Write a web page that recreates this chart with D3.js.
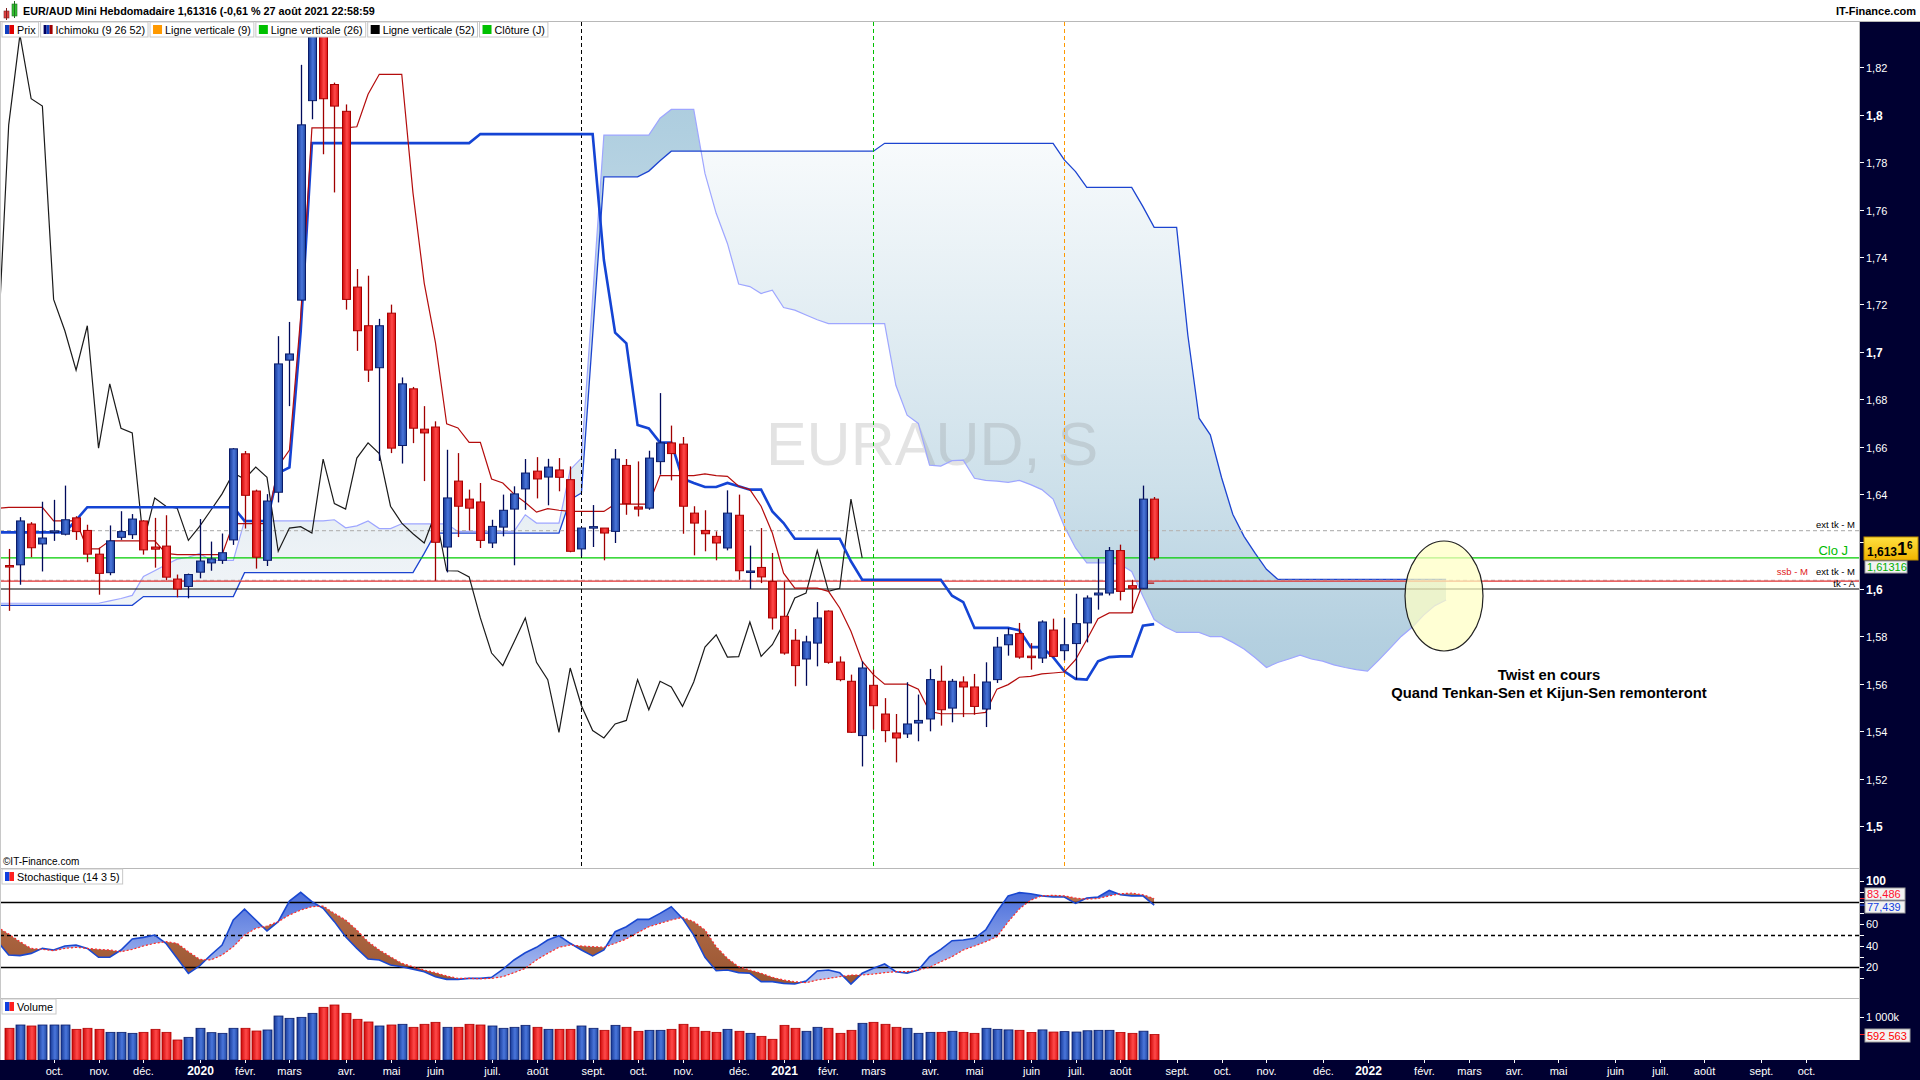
<!DOCTYPE html>
<html><head><meta charset="utf-8">
<script src="https://cdnjs.cloudflare.com/ajax/libs/d3/7.8.5/d3.min.js"></script>
<style>
html,body{margin:0;padding:0;background:#fff;overflow:hidden;}
svg{display:block;font-family:"Liberation Sans",Arial,sans-serif;}
</style></head><body>
<svg id="c" width="1920" height="1080"></svg>
<script>
// ---------- DATA (weekly EUR/AUD, first candle = week of 9 Sept 2019) ----------
const firstWeek = "2019-09-09";
const open = [1.6099,1.6102,1.6274,1.6190,1.6239,1.6231,1.6300,1.6247,1.6147,1.6069,
1.6218,1.6229,1.6287,1.6177,1.6181,1.6042,1.6011,1.6071,1.6110,1.6121,
1.6207,1.6570,1.6413,1.6121,1.6408,1.6965,1.7218,1.8059,1.8336,1.8127,
1.8014,1.7273,1.7110,1.6933,1.7163,1.6605,1.6844,1.6674,1.6683,1.6177,
1.6455,1.6379,1.6367,1.6194,1.6261,1.6337,1.6422,1.6497,1.6472,1.6502,
1.6461,1.6169,1.6259,1.6257,1.6243,1.6521,1.6346,1.6341,1.6537,1.6616,
1.6611,1.6320,1.6247,1.6222,1.6173,1.6311,1.6072,1.6091,1.6032,1.5885,
1.5784,1.5705,1.5772,1.5907,1.5692,1.5611,1.5382,1.5594,1.5473,1.5393,
1.5389,1.5435,1.5452,1.5611,1.5498,1.5608,1.5587,1.5494,1.5618,1.5765,
1.5812,1.5717,1.5709,1.5827,1.5740,1.5770,1.5857,1.5975,1.5983,1.6162,
1.6014,1.6003,1.6379];
const high = [1.6169,1.6303,1.6282,1.6368,1.6376,1.6436,1.6307,1.6271,1.6174,1.6268,
1.6328,1.6316,1.6290,1.6300,1.6311,1.6061,1.6065,1.6295,1.6200,1.6234,
1.6594,1.6582,1.6419,1.6400,1.7066,1.7126,1.8210,1.9800,1.8800,1.8135,
1.8043,1.7349,1.7321,1.7139,1.7199,1.6892,1.6852,1.6771,1.6707,1.6587,
1.6573,1.6419,1.6447,1.6292,1.6398,1.6433,1.6548,1.6556,1.6549,1.6552,
1.6517,1.6257,1.6354,1.6257,1.6590,1.6548,1.6538,1.6583,1.6826,1.6689,
1.6641,1.6349,1.6332,1.6243,1.6416,1.6398,1.6183,1.6257,1.6152,1.6032,
1.5831,1.5803,1.5945,1.5910,1.5716,1.5639,1.5695,1.5660,1.5540,1.5473,
1.5607,1.5555,1.5663,1.5677,1.5621,1.5632,1.5642,1.5691,1.5798,1.5836,
1.5857,1.5772,1.5868,1.5875,1.5878,1.5980,1.5973,1.6128,1.6177,1.6187,
1.6039,1.6436,1.6388];
const low = [1.5908,1.6018,1.6134,1.6074,1.6203,1.6226,1.6207,1.6113,1.5976,1.6058,
1.6207,1.6211,1.6145,1.6090,1.6037,1.5965,1.5961,1.6045,1.6077,1.6106,
1.6186,1.6255,1.6086,1.6097,1.6365,1.6771,1.7215,1.7981,1.7833,1.7672,
1.7178,1.7004,1.6873,1.6540,1.6573,1.6529,1.6615,1.6455,1.6035,1.6070,
1.6219,1.6247,1.6173,1.6173,1.6222,1.6100,1.6334,1.6382,1.6353,1.6412,
1.6155,1.6138,1.6177,1.6121,1.6194,1.6313,1.6306,1.6334,1.6482,1.6458,
1.6233,1.6142,1.6159,1.6121,1.6163,1.6039,1.6000,1.6025,1.5829,1.5723,
1.5590,1.5592,1.5674,1.5685,1.5611,1.5393,1.5252,1.5407,1.5354,1.5269,
1.5372,1.5358,1.5400,1.5424,1.5438,1.5460,1.5470,1.5418,1.5604,1.5719,
1.5706,1.5660,1.5688,1.5713,1.5699,1.5618,1.5775,1.5913,1.5973,1.5952,
1.5899,1.6000,1.6121];
const close = [1.6094,1.6287,1.6174,1.6215,1.6245,1.6292,1.6242,1.6147,1.6066,1.6203,
1.6242,1.6295,1.6165,1.6168,1.6050,1.6000,1.6061,1.6118,1.6127,1.6153,
1.6591,1.6395,1.6134,1.6371,1.6949,1.6991,1.7957,1.8336,1.8067,1.8036,
1.7221,1.7089,1.6923,1.7110,1.6594,1.6865,1.6678,1.6658,1.6197,1.6384,
1.6349,1.6341,1.6205,1.6264,1.6332,1.6401,1.6489,1.6464,1.6514,1.6471,
1.6159,1.6257,1.6263,1.6236,1.6548,1.6360,1.6337,1.6552,1.6616,1.6571,
1.6349,1.6278,1.6233,1.6194,1.6320,1.6077,1.6076,1.6051,1.5878,1.5730,
1.5677,1.5777,1.5878,1.5691,1.5618,1.5396,1.5667,1.5508,1.5403,1.5372,
1.5431,1.5446,1.5618,1.5491,1.5611,1.5587,1.5505,1.5608,1.5755,1.5807,
1.5713,1.5715,1.5861,1.5716,1.5765,1.5854,1.5962,1.5983,1.6162,1.5990,
1.6003,1.6379,1.61316];
// Ichimoku lines: index -1 .. 102
const tenkan = [1.6340,1.6344,1.6344,1.6344,1.6344,1.6287,1.6287,1.6287,1.6169,1.6169,
1.6203,1.6203,1.6203,1.6203,1.6203,1.6150,1.6145,1.6145,1.6145,1.6145,
1.6145,1.6276,1.6276,1.6276,1.6276,1.6518,1.6586,1.7148,1.7944,1.7944,
1.7944,1.7944,1.7949,1.8086,1.8170,1.8170,1.8170,1.7670,1.7290,1.7039,
1.6696,1.6679,1.6618,1.6618,1.6464,1.6447,1.6400,1.6365,1.6324,1.6339,
1.6332,1.6327,1.6327,1.6327,1.6327,1.6358,1.6358,1.6358,1.6358,1.6478,
1.6478,1.6478,1.6478,1.6485,1.6478,1.6475,1.6433,1.6419,1.6349,1.6236,
1.6067,1.6004,1.6004,1.6004,1.5990,1.5920,1.5822,1.5695,1.5639,1.5599,
1.5599,1.5599,1.5578,1.5484,1.5474,1.5474,1.5474,1.5474,1.5480,1.5578,
1.5597,1.5628,1.5632,1.5642,1.5646,1.5650,1.5702,1.5786,1.5875,1.5899,
1.5899,1.5899,1.6025,1.6025];
const kijun = [1.6239,1.6239,1.6239,1.6239,1.6239,1.6239,1.6239,1.6290,1.6345,1.6345,
1.6345,1.6345,1.6345,1.6345,1.6345,1.6345,1.6345,1.6345,1.6345,1.6345,
1.6345,1.6345,1.6287,1.6287,1.6287,1.6489,1.6513,1.7086,1.7880,1.7880,
1.7880,1.7880,1.7880,1.7880,1.7880,1.7880,1.7880,1.7880,1.7880,1.7880,
1.7880,1.7880,1.7880,1.7918,1.7918,1.7918,1.7918,1.7918,1.7918,1.7918,
1.7918,1.7918,1.7918,1.7918,1.7387,1.7081,1.7036,1.6691,1.6677,1.6617,
1.6617,1.6466,1.6447,1.6430,1.6430,1.6447,1.6433,1.6419,1.6419,1.6327,
1.6278,1.6212,1.6212,1.6212,1.6212,1.6212,1.6117,1.6039,1.6039,1.6039,
1.6039,1.6039,1.6039,1.6039,1.6039,1.5972,1.5945,1.5836,1.5836,1.5836,
1.5836,1.5826,1.5755,1.5755,1.5713,1.5653,1.5621,1.5618,1.5695,1.5713,
1.5716,1.5716,1.5845,1.5852];
// Senkou spans: index -1 .. 128 (projected 26 weeks ahead)
const senkouA = [1.5940,1.5940,1.5940,1.5940,1.5940,1.5940,1.5940,1.5940,1.5940,1.5940,
1.5950,1.5960,1.5973,1.6053,1.6077,1.6102,1.6126,1.6134,1.6150,1.6121,
1.6121,1.6121,1.6287,1.6287,1.6287,1.6287,1.6287,1.6287,1.6287,1.6287,
1.6292,1.6258,1.6266,1.6287,1.6255,1.6255,1.6275,1.6275,1.6275,1.6275,
1.6275,1.6243,1.6243,1.6243,1.6243,1.6243,1.6243,1.6313,1.6278,1.6278,
1.6278,1.6503,1.6552,1.7230,1.7914,1.7914,1.7914,1.7914,1.7914,1.7985,
1.8022,1.8022,1.8022,1.7752,1.7584,1.7457,1.7286,1.7275,1.7246,1.7260,
1.7187,1.7176,1.7155,1.7135,1.7119,1.7119,1.7119,1.7119,1.7119,1.7119,
1.6859,1.6733,1.6698,1.6522,1.6518,1.6541,1.6543,1.6467,1.6458,1.6455,
1.6450,1.6458,1.6440,1.6419,1.6379,1.6264,1.6173,1.6110,1.6110,1.6110,
1.6103,1.6074,1.5969,1.5871,1.5840,1.5817,1.5817,1.5817,1.5799,1.5799,
1.5775,1.5747,1.5710,1.5669,1.5690,1.5705,1.5721,1.5705,1.5696,1.5680,
1.5669,1.5660,1.5654,1.5700,1.5750,1.5800,1.5840,1.5890,1.5930,1.5954];
const senkouB = [1.5931,1.5931,1.5931,1.5931,1.5931,1.5931,1.5931,1.5931,1.5931,1.5931,
1.5931,1.5931,1.5931,1.5968,1.5968,1.5968,1.5968,1.5968,1.5968,1.5968,
1.5968,1.5968,1.6069,1.6069,1.6069,1.6069,1.6069,1.6069,1.6069,1.6069,
1.6069,1.6069,1.6069,1.6069,1.6069,1.6069,1.6069,1.6069,1.6150,1.6236,
1.6236,1.6236,1.6236,1.6236,1.6236,1.6236,1.6236,1.6236,1.6236,1.6236,
1.6236,1.6377,1.6405,1.7070,1.7738,1.7738,1.7738,1.7738,1.7762,1.7806,
1.7846,1.7846,1.7846,1.7846,1.7846,1.7846,1.7846,1.7846,1.7846,1.7846,
1.7846,1.7846,1.7846,1.7846,1.7846,1.7846,1.7846,1.7846,1.7846,1.7879,
1.7879,1.7879,1.7879,1.7879,1.7879,1.7879,1.7879,1.7879,1.7879,1.7879,
1.7879,1.7879,1.7879,1.7879,1.7879,1.7809,1.7760,1.7693,1.7693,1.7693,
1.7693,1.7693,1.7612,1.7525,1.7525,1.7525,1.7070,1.6720,1.6650,1.6470,
1.6315,1.6222,1.6150,1.6083,1.6041,1.6041,1.6041,1.6041,1.6041,1.6041,
1.6041,1.6041,1.6041,1.6041,1.6041,1.6041,1.6041,1.6041,1.6041,1.6041];
const chikouShift = 26;
// Stochastic (14 3 5): index -1 .. 102
const stochK = [44,31.4,30.8,32.9,37.5,36.0,39.7,40.6,37.5,29.3,29.3,
36.0,46.2,47.7,49.8,42.2,28.3,14.5,21.3,31.4,40.6,
63.7,73.8,63.7,53.6,62.2,81.2,89.2,80.6,74.5,62.2,
48.3,37.5,27.7,26.8,22.2,20.6,18.2,16.0,11.4,8.9,
8.9,9.8,9.8,10.8,18.2,26.8,33.5,38.5,45.2,49.2,
42.2,36.0,30.5,36.0,52.9,57.5,64.3,64.3,69.8,76.0,
65.2,49.8,29.3,16.9,17.5,15.1,14.5,6.8,6.8,5.2,
4.6,7.4,16.6,17.5,15.1,4.6,14.5,19.1,23.1,16.0,
14.5,17.5,29.8,36.6,44.6,45.2,46.8,54.5,71.4,86,
89,88,86,85,85,79,84,85,91,87,86,86,77.439];
const stochD = [57,50.8,43.7,37.5,36.6,35.4,37.5,38.5,37.5,36.6,36.0,
34.5,36.6,39.7,42.2,43.7,42.2,34.5,27.4,26.8,31.4,
39.1,49.8,56.0,58.2,62.2,68.3,72.9,76.0,76.6,69.8,
63.7,54.5,43.7,36.0,29.8,23.7,20.6,17.5,15.1,12.0,
9.8,9.8,9.5,9.8,11.4,15.1,19.1,26.8,32.9,38.5,
40.6,39.7,39.1,38.5,42.2,46.2,52.0,57.5,60.6,63.7,
66.1,62.2,54.5,39.1,28.3,20.6,17.5,14.5,10.8,8.3,
6.8,5.8,8.3,9.8,11.4,12.9,12.9,13.8,15.1,16.0,
16.0,17.5,20.0,25.2,29.8,36.0,39.7,43.7,48.3,62,
74,82,86,86.5,86,84,83,83.5,86,88,88.5,87,83.486];
// Volume (thousands), index 0 .. 102
const volume = [737,814,791,814,814,814,713,737,713,643,
643,620,643,713,643,465,527,737,636,620,
737,737,674,698,1023,969,992,1085,1225,1279,
1085,946,884,791,814,830,760,830,876,760,
760,830,814,791,737,760,806,760,713,713,
713,791,737,690,806,760,667,690,690,713,
830,760,667,643,713,667,620,550,481,806,
737,667,760,737,620,690,853,876,830,760,
737,620,643,643,667,643,620,737,713,700,
690,640,700,650,660,650,680,690,690,640,
620,670,592.563];
const priceTicks = [1.5,1.52,1.54,1.56,1.58,1.6,1.62,1.64,1.66,1.68,1.7,1.72,1.74,1.76,1.78,1.8,1.82];
const stochTicks = [100,60,40,20];
const xTickLabels = ["oct.","nov.","déc.","2020","févr.","mars","avr.","mai","juin","juil.","août","sept.",
"oct.","nov.","déc.","2021","févr.","mars","avr.","mai","juin","juil.","août","sept.",
"oct.","nov.","déc.","2022","févr.","mars","avr.","mai","juin","juil.","août","sept.","oct."];
const firstTickMonth = "2019-10-01";
const verticalLines = [{n:9,color:"#ff9900"},{n:26,color:"#00c000"},{n:52,color:"#000000"}];
const levels = [
 {v:1.6246,label:"ext tk - M",color:"#b8b8b8",dash:"4,3",lc:"#000",ly:528,lx:1855,fs:9.5},
 {v:1.61316,label:"Clo J",color:"#00cc00",dash:null,lc:"#00bb00",ly:555,lx:1848,fs:13},
 {v:1.6037,label:"ext tk - M",color:"#b8b8b8",dash:"4,3",lc:"#000",ly:575,lx:1855,fs:9.5},
 {v:1.6033,label:"ssb - M",color:"#e03030",dash:null,lc:"#e02020",ly:575,lx:1808,fs:9.5},
 {v:1.6000,label:"tk - A",color:"#000000",dash:null,lc:"#000",ly:587,lx:1855,fs:9.5}
];
const legendItems = [
 {t:"Prix",c:["#1040c0","#e00000"]},
 {t:"Ichimoku (9 26 52)",c:["#000060","#1040c0","#a00000"]},
 {t:"Ligne verticale (9)",c:["#ff9900"]},
 {t:"Ligne verticale (26)",c:["#00c000"]},
 {t:"Ligne verticale (52)",c:["#000000"]},
 {t:"Clôture (J)",c:["#00c000"]}
];

// ---------- LAYOUT ----------
const W=1920,H=1080,PR=1860,MT=22,MB=868,ST=868,SB=998,VT=998,VB=1060;
const svg=d3.select("#c");
const defs=svg.append("defs");
function grad(id,x1,y1,x2,y2,stops,user){
  const g=defs.append("linearGradient").attr("id",id).attr("x1",x1).attr("y1",y1).attr("x2",x2).attr("y2",y2);
  if(user)g.attr("gradientUnits","userSpaceOnUse");
  stops.forEach(s=>g.append("stop").attr("offset",s[0]).attr("stop-color",s[1]));
}
grad("gUp",0,0,1,0,[[0,"#163894"],[0.55,"#4a76dc"],[1,"#1f469e"]]);
grad("gDn",0,0,1,0,[[0,"#cc0808"],[0.55,"#ff4a4a"],[1,"#dd1414"]]);
grad("gBull",0,MT,0,MB,[[0,"#a6c7db"],[0.13,"#b0cfe0"],[0.63,"#edf2f6"],[1,"#ffffff"]],true);
grad("gBear",0,MT,0,MB,[[0,"#ffffff"],[0.12,"#fafcfd"],[0.55,"#cde0ea"],[0.73,"#b4d0e0"],[1,"#9cc0d6"]],true);
grad("gSBlue",0,880,0,990,[[0,"#3c62d8"],[1,"#bccbf4"]],true);
grad("gSBrown",0,880,0,990,[[0,"#bb7350"],[1,"#98542f"]],true);
grad("gGold",0,0,0,1,[[0,"#ffe040"],[1,"#f0b400"]]);

const START=new Date(firstWeek+"T00:00:00Z");
const weekOf=i=>d3.utcDay.offset(START,7*i);
const N=close.length, LAST=N-1;
const x=d3.scaleUtc().domain([weekOf(0),weekOf(LAST)]).range([8.7,8.7+11.23*LAST]);
const xi=i=>x(weekOf(i));
const y=d3.scaleLinear().domain([1.5,1.82]).range([826.2,67.2]);
const ys=d3.scaleLinear().domain([0,100]).range([989,880.7]);
const yv=d3.scaleLinear().domain([0,1000]).range([VB,1017]);

svg.append("rect").attr("width",W).attr("height",H).attr("fill","#fff");
defs.append("clipPath").attr("id","cMain").append("rect").attr("x",0).attr("y",MT).attr("width",PR).attr("height",MB-MT);
defs.append("clipPath").attr("id","cSto").append("rect").attr("x",0).attr("y",ST).attr("width",PR).attr("height",SB-ST);
defs.append("clipPath").attr("id","cVol").append("rect").attr("x",0).attr("y",VT).attr("width",PR).attr("height",VB-VT);

// ---------- MAIN PANEL ----------
const gm=svg.append("g").attr("clip-path","url(#cMain)");
const cIdx=d3.range(-1,senkouA.length-1);
const A=i=>senkouA[i+1],B=i=>senkouB[i+1];
defs.append("clipPath").attr("id","aboveB").append("path").attr("d",d3.area().x(xi).y0(MT).y1(i=>y(B(i)))(cIdx));
defs.append("clipPath").attr("id","belowB").append("path").attr("d",d3.area().x(xi).y0(MB).y1(i=>y(B(i)))(cIdx));
const cloudArea=d3.area().x(xi).y0(i=>y(B(i))).y1(i=>y(A(i)));
gm.append("path").attr("d",cloudArea(cIdx)).attr("fill","url(#gBull)").attr("clip-path","url(#aboveB)");
gm.append("path").attr("d",cloudArea(cIdx)).attr("fill","url(#gBear)").attr("clip-path","url(#belowB)");
gm.append("text").attr("x",932).attr("y",465).attr("text-anchor","middle").attr("font-size",61)
  .attr("fill","#808080").attr("fill-opacity",0.22).text("EURAUD, S");
const ln=d3.line().x(d=>d[0]).y(d=>d[1]);
gm.append("path").attr("d",ln(cIdx.map(i=>[xi(i),y(A(i))]))).attr("fill","none").attr("stroke","#9ea6ff").attr("stroke-width",1.2);
gm.append("path").attr("d",ln(cIdx.map(i=>[xi(i),y(B(i))]))).attr("fill","none").attr("stroke","#1c44d0").attr("stroke-width",1.3);
levels.forEach(l=>{
  gm.append("line").attr("x1",0).attr("x2",PR).attr("y1",y(l.v)).attr("y2",y(l.v))
    .attr("stroke",l.color).attr("stroke-width",1.2).attr("stroke-dasharray",l.dash);
});
verticalLines.forEach(v=>{
  const xx=Math.round(xi(LAST-(v.n-1)))+0.5;
  gm.append("line").attr("x1",xx).attr("x2",xx).attr("y1",MT).attr("y2",MB)
    .attr("stroke",v.color).attr("stroke-width",1).attr("stroke-dasharray","4,3");
});
const chIdx=d3.range(-1,N-chikouShift);
gm.append("path").attr("d",ln(chIdx.map(j=>[xi(j),y(close[j+chikouShift])]))).attr("fill","none").attr("stroke","#1a1a1a").attr("stroke-width",1.2);
const iIdx=d3.range(-1,N);
gm.append("path").attr("d",ln(iIdx.map(i=>[xi(i),y(kijun[i+1])]))).attr("fill","none").attr("stroke","#1444d4").attr("stroke-width",2.6);
gm.append("path").attr("d",ln(iIdx.map(i=>[xi(i),y(tenkan[i+1])]))).attr("fill","none").attr("stroke","#b40c0c").attr("stroke-width",1.2);
const cg=gm.append("g");
d3.range(N).forEach(i=>{
  const up=close[i]>=open[i];
  const cx=Math.round(xi(i));
  cg.append("line").attr("x1",cx+0.5).attr("x2",cx+0.5).attr("y1",y(high[i])).attr("y2",y(low[i]))
    .attr("stroke",up?"#000a5a":"#a00000").attr("stroke-width",1.3);
  const t=y(Math.max(open[i],close[i])),b=y(Math.min(open[i],close[i]));
  cg.append("rect").attr("x",cx-3.5).attr("y",t).attr("width",8).attr("height",Math.max(1.5,b-t))
    .attr("fill",up?"url(#gUp)":"url(#gDn)").attr("stroke",up?"#0a1c6a":"#a80000").attr("stroke-width",1);
});
gm.append("ellipse").attr("cx",1444).attr("cy",596).attr("rx",39).attr("ry",55)
  .attr("fill","#ffffc4").attr("fill-opacity",0.72).attr("stroke","#222").attr("stroke-width",1.2);
gm.append("text").attr("x",1549).attr("y",680).attr("text-anchor","middle").attr("font-size",14.8).attr("font-weight","bold").text("Twist en cours");
gm.append("text").attr("x",1549).attr("y",698).attr("text-anchor","middle").attr("font-size",14.8).attr("font-weight","bold").text("Quand Tenkan-Sen et Kijun-Sen remonteront");
levels.forEach(l=>{
  gm.append("text").attr("x",l.lx).attr("y",l.ly).attr("text-anchor","end")
   .attr("font-size",l.fs).attr("fill",l.lc).text(l.label);
});
gm.append("text").attr("x",3).attr("y",865).attr("font-size",10).text("©IT-Finance.com");

// ---------- STOCHASTIC ----------
const gs=svg.append("g").attr("clip-path","url(#cSto)");
const sIdx=d3.range(-1,N);
const K=i=>stochK[i+1],D=i=>stochD[i+1];
defs.append("clipPath").attr("id","aboveD").append("path").attr("d",d3.area().x(xi).y0(ST).y1(i=>ys(D(i)))(sIdx));
defs.append("clipPath").attr("id","belowD").append("path").attr("d",d3.area().x(xi).y0(SB).y1(i=>ys(D(i)))(sIdx));
const sArea=d3.area().x(xi).y0(i=>ys(D(i))).y1(i=>ys(K(i)));
gs.append("path").attr("d",sArea(sIdx)).attr("fill","url(#gSBlue)").attr("clip-path","url(#aboveD)");
gs.append("path").attr("d",sArea(sIdx)).attr("fill","url(#gSBrown)").attr("clip-path","url(#belowD)");
[[80,null],[20,null],[50,"4,3"]].forEach(([v,d])=>{
  gs.append("line").attr("x1",0).attr("x2",PR).attr("y1",Math.round(ys(v))+0.5).attr("y2",Math.round(ys(v))+0.5)
   .attr("stroke","#000").attr("stroke-width",1.4).attr("stroke-dasharray",d);
});
gs.append("path").attr("d",ln(sIdx.map(i=>[xi(i),ys(K(i))]))).attr("fill","none").attr("stroke","#1a48d0").attr("stroke-width",1.6);
gs.append("path").attr("d",ln(sIdx.map(i=>[xi(i),ys(D(i))]))).attr("fill","none").attr("stroke","#ff2a2a").attr("stroke-width",1.2).attr("stroke-dasharray","2,2");

// ---------- VOLUME ----------
const gv=svg.append("g").attr("clip-path","url(#cVol)");
volume.forEach((v,i)=>{
  const up=close[i]>=open[i];
  const cx=Math.round(xi(i));
  gv.append("rect").attr("x",cx-4).attr("y",yv(v)).attr("width",9).attr("height",VB-yv(v))
    .attr("fill",up?"url(#gUp)":"url(#gDn)").attr("stroke",up?"#0a1c6a":"#b00000").attr("stroke-width",0.8);
});

// ---------- FRAMES / SEPARATORS ----------
[MT-1,ST,SB].forEach(yy=>svg.append("line").attr("x1",0).attr("x2",W).attr("y1",yy+0.5).attr("y2",yy+0.5).attr("stroke","#b8b8b8"));
svg.append("line").attr("x1",0.5).attr("x2",0.5).attr("y1",MT).attr("y2",VB).attr("stroke","#c8c8c8");

// ---------- RIGHT AXIS ----------
const navy="#000031";
svg.append("rect").attr("x",PR).attr("y",MT).attr("width",W-PR).attr("height",H-MT).attr("fill",navy);
svg.append("rect").attr("x",0).attr("y",VB).attr("width",W).attr("height",H-VB).attr("fill",navy);
svg.append("line").attr("x1",PR-0.5).attr("x2",PR-0.5).attr("y1",MT).attr("y2",VB).attr("stroke","#b8b8b8");
const ax=svg.append("g").attr("fill","#fff").attr("font-size",11);
const fmtP=v=>v.toFixed(2).replace(/0$/,"").replace(".",",");
priceTicks.forEach(v=>{
  const yy=Math.round(y(v))+0.5;
  ax.append("line").attr("x1",PR).attr("x2",PR+4).attr("y1",yy).attr("y2",yy).attr("stroke","#fff");
  const bold=Math.abs(v*10-Math.round(v*10))<1e-6;
  ax.append("text").attr("x",PR+6).attr("y",yy+4).attr("font-weight",bold?"bold":"normal").attr("font-size",bold?12:11).text(fmtP(v));
});
d3.range(10,101,10).forEach(v=>{
  const yy=Math.round(ys(v))+0.5;
  ax.append("line").attr("x1",PR).attr("x2",PR+4).attr("y1",yy).attr("y2",yy).attr("stroke","#fff");
});
stochTicks.forEach(v=>{
  ax.append("text").attr("x",PR+6).attr("y",ys(v)+4).attr("font-weight",v===100?"bold":"normal").attr("font-size",v===100?12:11).text(v);
});
ax.append("line").attr("x1",PR).attr("x2",PR+4).attr("y1",yv(1000)+0.5).attr("y2",yv(1000)+0.5).attr("stroke","#fff");
ax.append("text").attr("x",PR+6).attr("y",yv(1000)+4).text("1 000k");
function vbox(yTop,h,txt,col,w){
  svg.append("rect").attr("x",PR+5).attr("y",yTop).attr("width",w).attr("height",h).attr("fill","#f2f2f2").attr("stroke","#a0a0a0");
  svg.append("text").attr("x",PR+7).attr("y",yTop+h-2.5).attr("font-size",11).attr("fill",col).text(txt);
}
svg.append("line").attr("x1",PR).attr("x2",PR+5).attr("y1",ys(83.486)).attr("y2",ys(83.486)).attr("stroke","#ff2a2a");
svg.append("line").attr("x1",PR).attr("x2",PR+5).attr("y1",ys(77.439)).attr("y2",ys(77.439)).attr("stroke","#2a58ff");
vbox(888,12,"83,486","#ff1030",40);
vbox(901,12,"77,439","#1040e0",40);
svg.append("line").attr("x1",PR).attr("x2",PR+5).attr("y1",yv(592.563)).attr("y2",yv(592.563)).attr("stroke","#ff2020");
vbox(1029,13,"592 563","#ff0000",45);
svg.append("rect").attr("x",PR+4).attr("y",537).attr("width",54).attr("height",23).attr("fill","url(#gGold)").attr("stroke","#c09000");
const pt=svg.append("text").attr("x",PR+7).attr("y",556).attr("font-weight","bold").attr("fill","#000");
pt.append("tspan").attr("font-size",12).text("1,613");
pt.append("tspan").attr("font-size",18).attr("dy",-1).text("1");
pt.append("tspan").attr("font-size",10).attr("dy",-6).text("6");
vbox(561,12,"1,61316","#00b000",42);

// ---------- X AXIS ----------
const tm0=new Date(firstTickMonth+"T00:00:00Z");
xTickLabels.forEach((lab,k)=>{
  const m=d3.utcMonth.offset(tm0,k);
  const d=d3.utcMonday.ceil(m);
  const xx=Math.round(x(d))+0.5;
  if(xx>PR)return;
  svg.append("line").attr("x1",xx).attr("x2",xx).attr("y1",VB).attr("y2",VB+3).attr("stroke","#fff");
  const yr=/^\d+$/.test(lab);
  svg.append("text").attr("x",xx).attr("y",1075).attr("text-anchor","middle").attr("fill","#fff")
    .attr("font-size",yr?12:11).attr("font-weight",yr?"bold":"normal").text(lab);
});

// ---------- HEADER ----------
svg.append("rect").attr("x",4).attr("y",11).attr("width",5).attr("height",7).attr("fill","#e04040").attr("stroke","#802020").attr("stroke-width",0.6);
svg.append("line").attr("x1",6.5).attr("x2",6.5).attr("y1",8).attr("y2",20).attr("stroke","#802020");
svg.append("rect").attr("x",12).attr("y",4).attr("width",5).attr("height",12).attr("fill","#30c030").attr("stroke","#207020").attr("stroke-width",0.6);
svg.append("line").attr("x1",14.5).attr("x2",14.5).attr("y1",1).attr("y2",18).attr("stroke","#207020");
svg.append("text").attr("x",23).attr("y",15).attr("font-size",10.8).attr("font-weight","bold")
  .text("EUR/AUD Mini Hebdomadaire 1,61316 (-0,61 % 27 août 2021 22:58:59");
svg.append("text").attr("x",1916).attr("y",15).attr("text-anchor","end").attr("font-size",11).attr("font-weight","bold").text("IT-Finance.com");
function legendBox(x0,y0,items){
  let cx=x0;
  items.forEach(it=>{
    const g=svg.append("g");
    const r=g.append("rect").attr("x",cx).attr("y",y0).attr("height",15).attr("fill","#fff").attr("stroke","#c8c8c8");
    const n=it.c.length,iw=9;
    it.c.forEach((c,k)=>g.append("rect").attr("x",cx+3+k*iw/n).attr("y",y0+3).attr("width",iw/n).attr("height",9).attr("fill",c));
    const t=g.append("text").attr("x",cx+15).attr("y",y0+12).attr("font-size",10.8).text(it.t);
    const w=t.node().getComputedTextLength()+18;
    r.attr("width",w);
    cx+=w+2;
  });
}
legendBox(2,22,legendItems);
legendBox(2,869,[{t:"Stochastique (14 3 5)",c:["#1040e0","#ff2020"]}]);
legendBox(2,999,[{t:"Volume",c:["#1040e0","#ff2020"]}]);
</script></body></html>
